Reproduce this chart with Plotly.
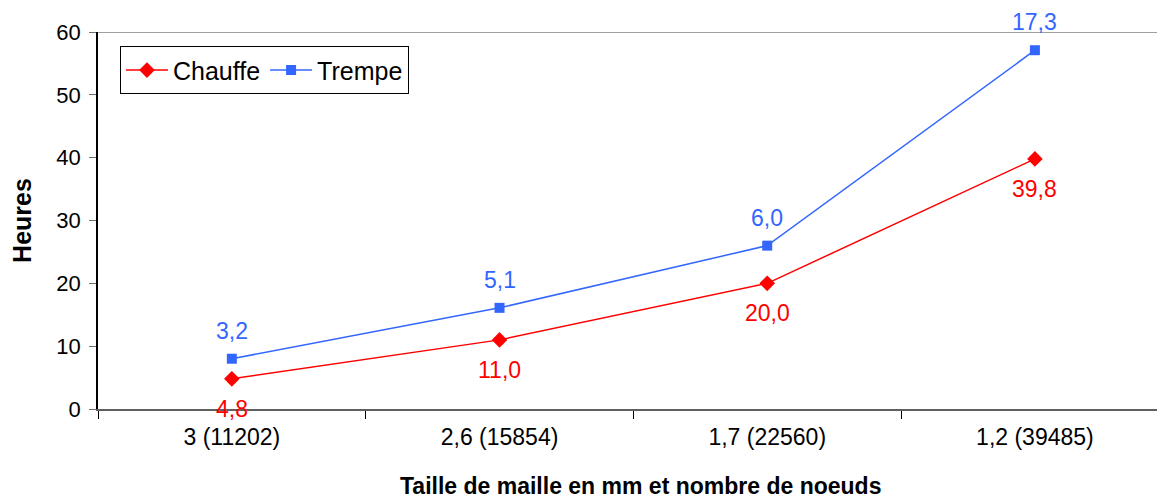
import numpy as np
import plotly.graph_objects as go

categories = ["3 (11202)", "2,6 (15854)", "1,7 (22560)", "1,2 (39485)"]
chauffe = [4.8, 11.0, 20.0, 39.8]
trempe = [3.2, 5.1, 6.0, 17.3]
y_ticks = [0, 10, 20, 30, 40, 50, 60]

chauffe_arr = np.array(chauffe)
trempe_stack = chauffe_arr + np.array(trempe)

FONT = "Liberation Sans, Arial, sans-serif"
RED = "#FF0000"
BLUE = "#3366FF"

fig = go.Figure()
fig.add_trace(go.Scatter(
    x=categories, y=chauffe_arr, name="Chauffe", mode="lines+markers",
    line=dict(color=RED, width=1.5),
    marker=dict(symbol="diamond", size=12, color=RED),
    cliponaxis=False,
))
fig.add_trace(go.Scatter(
    x=categories, y=trempe_stack, name="Trempe", mode="lines+markers",
    line=dict(color=BLUE, width=1.5),
    marker=dict(symbol="square", size=10, color=BLUE),
    cliponaxis=False,
))

def fmt(v):
    return f"{v:.1f}".replace(".", ",")

annotations = []
for cat, yv, v in zip(categories, chauffe_arr, chauffe):
    annotations.append(dict(x=cat, y=yv, xref="x", yref="y", text=fmt(v),
                            showarrow=False, yanchor="middle", yshift=-30,
                            font=dict(color=RED, size=23, family=FONT)))
for cat, yv, v in zip(categories, trempe_stack, trempe):
    annotations.append(dict(x=cat, y=yv, xref="x", yref="y", text=fmt(v),
                            showarrow=False, yanchor="middle", yshift=28,
                            font=dict(color=BLUE, size=23, family=FONT)))

# x-axis title, centred on the chart area as in the reference
annotations.append(dict(x=0.508, y=0, xref="paper", yref="paper",
                        text="<b>Taille de maille en mm et nombre de noeuds</b>",
                        showarrow=False, xanchor="center", yanchor="middle", yshift=-77,
                        font=dict(size=23, family=FONT, color="black")))

fig.add_shape(type="line", xref="paper", yref="y", x0=0, x1=1, y0=60, y1=60,
              line=dict(color="#A0A0A0", width=2), layer="below")

fig.update_layout(
    width=1157, height=491, autosize=False,
    margin=dict(l=90, r=0, t=24, b=90),
    paper_bgcolor="white", plot_bgcolor="white",
    font=dict(family=FONT, size=22, color="black"),
    showlegend=True,
    annotations=annotations,
    legend=dict(
        orientation="h", x=0.0206, y=0.962, xanchor="left", yanchor="top",
        bgcolor="white", bordercolor="black", borderwidth=1,
        font=dict(size=25, family=FONT), traceorder="normal",
        itemwidth=42,
    ),
    xaxis=dict(
        type="category", range=[-0.5, 3.486], tickson="boundaries",
        showline=True, linecolor="#606060", linewidth=2,
        ticks="outside", ticklen=8, tickcolor="black",
        showgrid=False, zeroline=False, automargin=False,
        ticklabelstandoff=6,
        tickfont=dict(size=23, family=FONT),
    ),
    yaxis=dict(
        range=[0, 60], tickvals=y_ticks,
        showline=True, linecolor="black", linewidth=1.5,
        ticks="outside", ticklen=7, tickcolor="#707070",
        showgrid=False, zeroline=False, automargin=False,
        ticklabelstandoff=4,
        tickfont=dict(size=22, family=FONT),
        title=dict(text="<b>Heures</b>", font=dict(size=25, family=FONT), standoff=24),
    ),
)

fig.write_html("out.html")
